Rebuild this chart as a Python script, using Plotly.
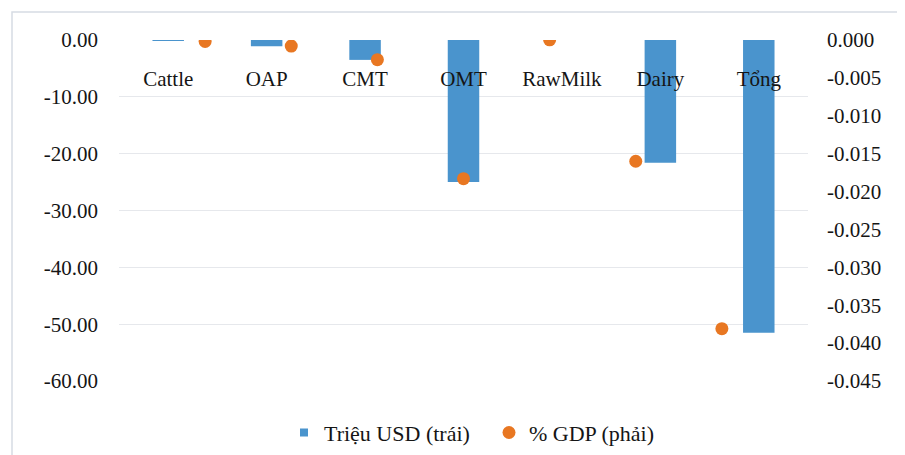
import plotly.graph_objects as go

categories = ["Cattle", "OAP", "CMT", "OMT", "RawMilk", "Dairy", "Tổng"]
usd_million = [-0.1, -1.1, -3.5, -25.0, 0.0, -21.6, -51.5]
gdp_pct = [-0.0002, -0.0008, -0.0026, -0.0183, 0.00002, -0.0160, -0.0381]
left_ticks = [0, -10, -20, -30, -40, -50, -60]
right_ticks = [0, -0.005, -0.01, -0.015, -0.02, -0.025, -0.03, -0.035, -0.04, -0.045]

FONT = "'Liberation Serif', 'Times New Roman', 'DejaVu Serif', serif"
BLUE = "#4a94cd"
ORANGE = "#e87722"
TXT = "#151515"
FS = 21

fig = go.Figure()
fig.add_trace(go.Bar(
    x=categories, y=usd_million, name="Triệu USD (trái)",
    marker=dict(color=BLUE, line=dict(width=0)), width=0.32,
    xaxis="x", yaxis="y", showlegend=False,
))
# legend swatch for the bar series (small square, as in the original)
fig.add_trace(go.Scatter(
    x=[None], y=[None], name="Triệu USD (trái)", mode="markers",
    marker=dict(color=BLUE, size=8, symbol="square", line=dict(width=0)),
    xaxis="x", yaxis="y",
))
fig.add_trace(go.Scatter(
    x=categories, y=gdp_pct, name="% GDP (phải)", mode="markers",
    marker=dict(color=ORANGE, size=13, line=dict(width=0)),
    xaxis="x2", yaxis="y2",
))

fig.update_layout(
    width=905, height=455,
    margin=dict(l=111, r=105, t=32, b=82, autoexpand=False),
    paper_bgcolor="white", plot_bgcolor="white",
    font=dict(family=FONT, size=FS, color=TXT),
    showlegend=True,
    legend=dict(orientation="h", x=(284 - 119) / 689, xanchor="left",
                y=-0.09, yanchor="top",
                font=dict(family=FONT, size=22, color=TXT),
                itemsizing="trace", itemwidth=30,
                entrywidth=160, entrywidthmode="pixels"),
    xaxis=dict(
        type="category", categoryorder="array", categoryarray=categories,
        anchor="free", position=1.0, side="bottom", automargin=False,
        showline=False, showgrid=False, zeroline=False, ticks="",
        ticklabelstandoff=24, range=[-0.5, 6.5],
        tickfont=dict(family=FONT, size=FS, color=TXT),
    ),
    xaxis2=dict(
        type="category", categoryorder="array", categoryarray=categories,
        overlaying="x", range=[-1, 7], visible=False, automargin=False,
    ),
    yaxis=dict(
        range=[-60, 0], tickvals=left_ticks,
        ticktext=[f"{v:.2f}" for v in left_ticks], automargin=False,
        showgrid=True, gridcolor="#e6e8ec", gridwidth=1,
        zeroline=False, showline=False, ticks="", ticklabelstandoff=20,
        tickfont=dict(family=FONT, size=FS, color=TXT),
    ),
    yaxis2=dict(
        range=[-0.045, 0], tickvals=right_ticks,
        ticktext=[f"{v:.3f}" if v != 0 else "0.000" for v in right_ticks],
        overlaying="y", side="right", showgrid=False, zeroline=False,
        showline=False, ticks="", ticklabelstandoff=18, automargin=False,
        tickfont=dict(family=FONT, size=FS, color=TXT),
    ),
    shapes=[dict(
        type="rect", xref="paper", yref="paper",
        x0=(12 - 119) / 689, x1=1.3, y0=-0.5, y1=1 + 28 / 341,
        line=dict(color="#d6dbe4", width=1.5), fillcolor="rgba(0,0,0,0)",
        layer="below",
    )],
)

fig.write_html("out.html")
